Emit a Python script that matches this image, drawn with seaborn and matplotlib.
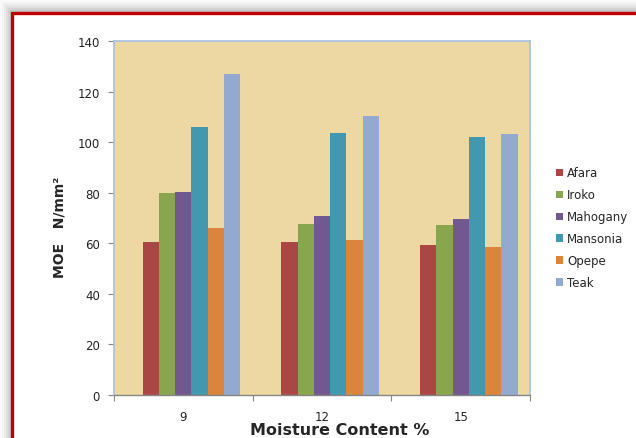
import matplotlib
matplotlib.use("Agg")
import matplotlib.pyplot as plt
import seaborn as sns
import pandas as pd
import numpy as np
from matplotlib.patches import Rectangle, Patch
from matplotlib.ticker import FixedLocator

moisture = ["9", "12", "15"]
species = ["Afara", "Iroko", "Mahogany", "Mansonia", "Opepe", "Teak"]
afara = [60.5, 60.5, 59.4]
iroko = [80.0, 67.6, 67.3]
mahogany = [80.2, 70.9, 69.6]
mansonia = [106.0, 103.6, 102.1]
opepe = [65.9, 61.2, 58.5]
teak = [126.9, 110.4, 103.3]
colors = ["#AA4643", "#89A54E", "#71588F", "#4198AF", "#DB843D", "#93A9CF"]
yticks = [0, 20, 40, 60, 80, 100, 120, 140]

# Excel chart keeps an empty first series slot in each group
blank = "(empty)"
series = [afara, iroko, mahogany, mansonia, opepe, teak]
rows = []
for m in moisture:
    rows.append({"Moisture": m, "Species": blank, "MOE": np.nan})
for sp, vals in zip(species, series):
    for m, v in zip(moisture, vals):
        rows.append({"Moisture": m, "Species": sp, "MOE": v})
df = pd.DataFrame(rows)
pal = {blank: "#FFFFFF"}
pal.update(dict(zip(species, colors)))

sns.set_style("white")
plt.rcParams["font.family"] = ["DejaVu Sans"]

W, H = 636, 439
fig = plt.figure(figsize=(W / 100, H / 100), dpi=100)
fig.patch.set_facecolor("white")

# soft shadow around the frame
for i, a in enumerate([0.03, 0.05, 0.07, 0.09, 0.11, 0.14]):
    off = 11 - 2 * i
    fig.patches.append(Rectangle(((11 - off) / W, -0.1), 1.2, (H - 12 + off) / H + 0.1,
                                 transform=fig.transFigure, facecolor="#7a7a7a",
                                 alpha=a, edgecolor="none", zorder=0))
fig.patches.append(Rectangle((12 / W, -0.1), 1.2, (H - 13.5) / H + 0.1,
                             transform=fig.transFigure, facecolor="white",
                             edgecolor="#C00000", linewidth=2.4, zorder=1))

ax = fig.add_axes([114 / W, (H - 396) / H, 416 / W, 354 / H])
ax.set_zorder(2)
sns.barplot(data=df, x="Moisture", y="MOE", hue="Species", order=moisture,
            hue_order=[blank] + species, palette=pal, width=0.823, saturation=1,
            ax=ax, legend=False, edgecolor="none", linewidth=0, errorbar=None)
ax.set_facecolor("#EDD8A3")
ax.set_ylim(0, 140)
ax.set_xlim(-0.5, 2.5)
ax.set_yticks(yticks)
ax.tick_params(axis="y", length=4, color="#868686", labelsize=8.5, pad=6,
               labelcolor="#222222", direction="out", left=True)
ax.xaxis.set_major_locator(FixedLocator([-0.5, 0.5, 1.5, 2.5]))
ax.xaxis.set_minor_locator(FixedLocator([0, 1, 2]))
ax.set_xticklabels(["", "", "", ""])
ax.set_xticklabels(moisture, minor=True)
ax.tick_params(axis="x", which="major", length=4, color="#868686", direction="out", bottom=True)
ax.tick_params(axis="x", which="minor", length=0, labelsize=8.5, pad=11, labelcolor="#222222")

for s in ["top", "right", "left"]:
    ax.spines[s].set_color("#A7C0E4")
    ax.spines[s].set_linewidth(1.2)
ax.spines["bottom"].set_color("#868686")
ax.spines["bottom"].set_linewidth(1.0)

ax.set_xlabel("Moisture Content %", fontsize=11.5, fontweight="bold")
ax.xaxis.set_label_coords(0.543, -0.077)
ax.set_ylabel("MOE   N/mm²", fontsize=10, fontweight="bold")
ax.yaxis.set_label_coords(-0.113, 0.476)

handles = [Patch(facecolor=c, edgecolor="none") for c in colors]
ax.legend(handles, species, loc="center left", bbox_to_anchor=(1.05, 0.472), frameon=False,
          fontsize=8.5, handlelength=0.6, handleheight=0.6, handletextpad=0.4,
          labelspacing=0.76, borderaxespad=0)

fig.savefig("out.png", dpi=100)
